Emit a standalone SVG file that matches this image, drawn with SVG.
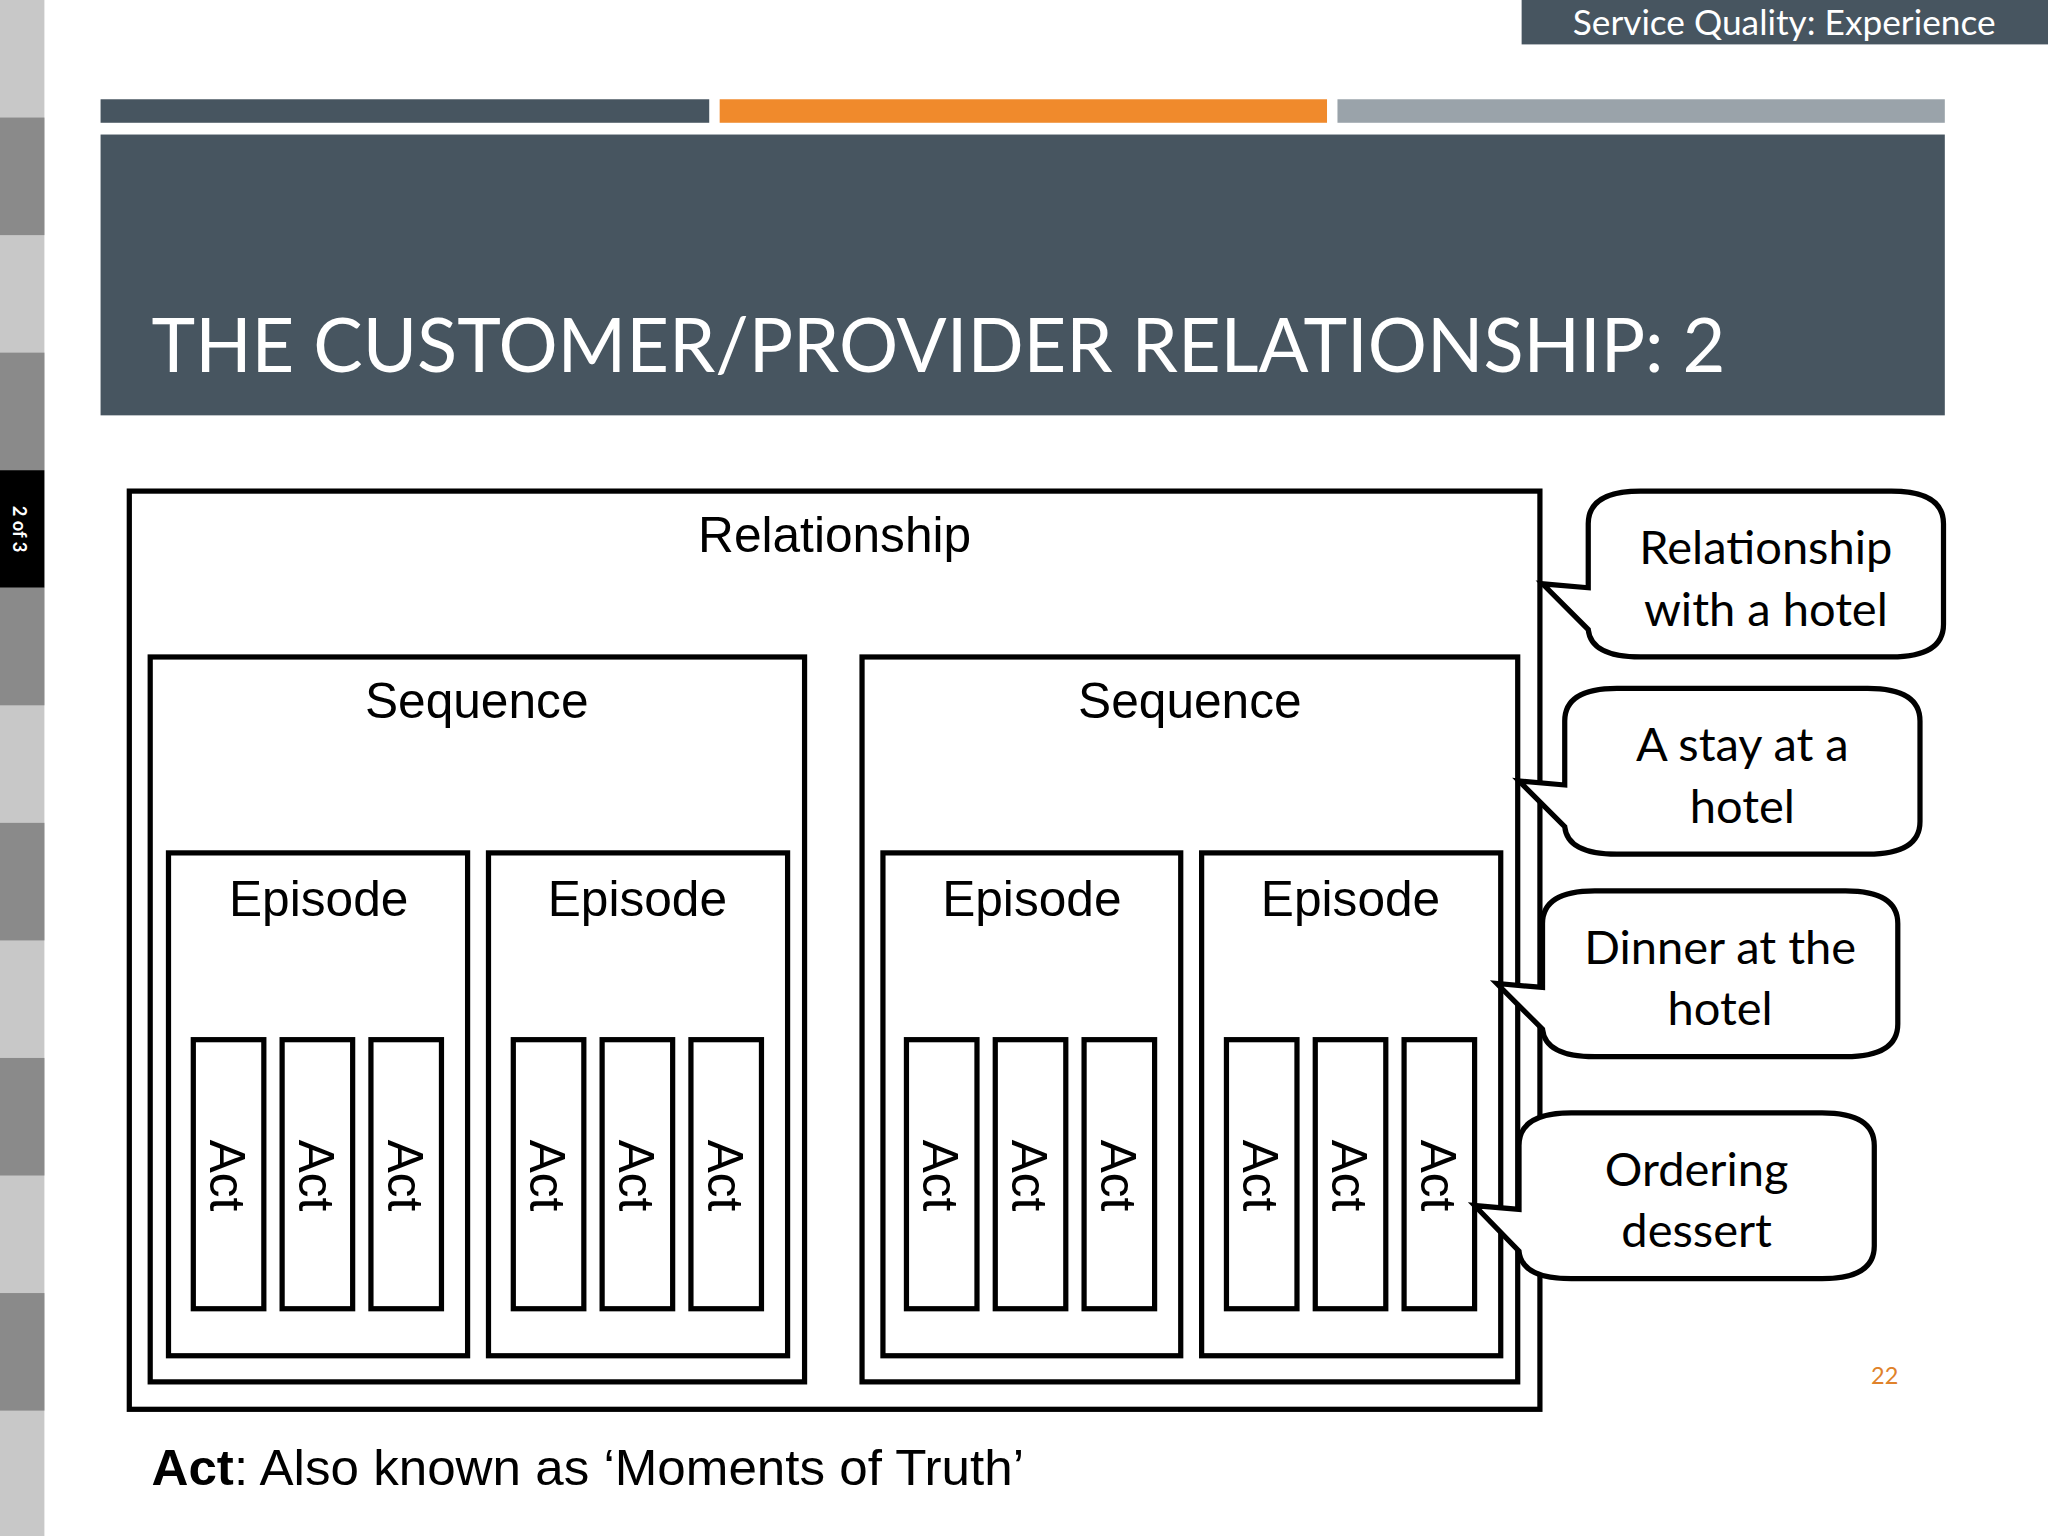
<svg xmlns="http://www.w3.org/2000/svg" width="2048" height="1536" viewBox="0 0 2048 1536">
<style>
.b{fill:#fff;stroke:#000;stroke-width:4}
.t{font-family:"Liberation Sans",Arial,sans-serif;font-size:38px;fill:#000;text-anchor:middle}
.g{font-family:Lato,"Open Sans",sans-serif;font-size:36px;fill:#000;text-anchor:middle}
.a{font-family:"Liberation Sans",Arial,sans-serif;font-size:38px;fill:#000}
</style>
<rect width="2048" height="1536" fill="#fff"/>
<g transform="scale(1.30612,1.30612)">
<g id="strip">
<rect x="0" y="0" width="34" height="1176" fill="#c8c8c8"/>
<rect x="0" y="90" width="34" height="90" fill="#8a8a8a"/>
<rect x="0" y="270" width="34" height="90" fill="#8a8a8a"/>
<rect x="0" y="360" width="34" height="90" fill="#000"/>
<rect x="0" y="450" width="34" height="90" fill="#8a8a8a"/>
<rect x="0" y="630" width="34" height="90" fill="#8a8a8a"/>
<rect x="0" y="810" width="34" height="90" fill="#8a8a8a"/>
<rect x="0" y="990" width="34" height="90" fill="#8a8a8a"/>
<text transform="translate(10,405) rotate(90)" font-family="Lato,sans-serif" font-size="14" font-weight="bold" fill="#fff" text-anchor="middle">2 of 3</text>
</g>
<g id="header">
<rect x="1165" y="0" width="403" height="34" fill="#475560"/>
<text x="1366" y="27" font-family="Lato,'Open Sans',sans-serif" font-size="27" fill="#fff" text-anchor="middle">Service Quality: Experience</text>
<rect x="77" y="76" width="466" height="18" fill="#475560"/>
<rect x="551" y="76" width="465" height="18" fill="#f08a2c"/>
<rect x="1024" y="76" width="465" height="18" fill="#9aa3aa"/>
<rect x="77" y="103" width="1412" height="215" fill="#475560"/>
<text x="116" y="285" font-family="Lato,'Open Sans',sans-serif" font-size="58" fill="#fff" textLength="1205" lengthAdjust="spacingAndGlyphs">THE CUSTOMER/PROVIDER RELATIONSHIP: 2</text>
</g>
<g id="relationship"><rect class="b" x="99" y="376" width="1080" height="703"/><text class="t" x="639" y="423">Relationship</text></g>
<g id="seq1"><rect class="b" x="115" y="503" width="501" height="555"/><text class="t" x="365" y="550">Sequence</text></g>
<g id="seq2"><rect class="b" x="660" y="503" width="502" height="555"/><text class="t" x="911" y="550">Sequence</text></g>
<g id="ep1"><rect class="b" x="129" y="653" width="229" height="385"/><text class="t" x="244" y="701">Episode</text></g>
<g id="ep2"><rect class="b" x="374" y="653" width="229" height="385"/><text class="t" x="488" y="701">Episode</text></g>
<g id="ep3"><rect class="b" x="676" y="653" width="228" height="385"/><text class="t" x="790" y="701">Episode</text></g>
<g id="ep4"><rect class="b" x="920" y="653" width="229" height="385"/><text class="t" x="1034" y="701">Episode</text></g>
<g id="acts">
<g id="act1"><rect class="b" x="148" y="796" width="54" height="206"/><text class="a" transform="translate(161,900) rotate(90)" text-anchor="middle">Act</text></g>
<g id="act2"><rect class="b" x="216" y="796" width="54" height="206"/><text class="a" transform="translate(229,900) rotate(90)" text-anchor="middle">Act</text></g>
<g id="act3"><rect class="b" x="284" y="796" width="54" height="206"/><text class="a" transform="translate(297,900) rotate(90)" text-anchor="middle">Act</text></g>
<g id="act4"><rect class="b" x="393" y="796" width="54" height="206"/><text class="a" transform="translate(406,900) rotate(90)" text-anchor="middle">Act</text></g>
<g id="act5"><rect class="b" x="461" y="796" width="54" height="206"/><text class="a" transform="translate(474,900) rotate(90)" text-anchor="middle">Act</text></g>
<g id="act6"><rect class="b" x="529" y="796" width="54" height="206"/><text class="a" transform="translate(542,900) rotate(90)" text-anchor="middle">Act</text></g>
<g id="act7"><rect class="b" x="694" y="796" width="54" height="206"/><text class="a" transform="translate(707,900) rotate(90)" text-anchor="middle">Act</text></g>
<g id="act8"><rect class="b" x="762" y="796" width="54" height="206"/><text class="a" transform="translate(775,900) rotate(90)" text-anchor="middle">Act</text></g>
<g id="act9"><rect class="b" x="830" y="796" width="54" height="206"/><text class="a" transform="translate(843,900) rotate(90)" text-anchor="middle">Act</text></g>
<g id="act10"><rect class="b" x="939" y="796" width="54" height="206"/><text class="a" transform="translate(952,900) rotate(90)" text-anchor="middle">Act</text></g>
<g id="act11"><rect class="b" x="1007" y="796" width="54" height="206"/><text class="a" transform="translate(1020,900) rotate(90)" text-anchor="middle">Act</text></g>
<g id="act12"><rect class="b" x="1075" y="796" width="54" height="206"/><text class="a" transform="translate(1088,900) rotate(90)" text-anchor="middle">Act</text></g>
</g>
<g id="callout1"><path class="b" d="M1256,376 H1448 Q1488,376 1488,401 V478 Q1488,503 1448,503 H1256 Q1218,503 1216,482 L1181,447 L1216,450 V401 Q1216,376 1256,376 Z"/><text class="g" x="1352" y="432">Relationship</text><text class="g" x="1352" y="479">with a hotel</text></g>
<g id="callout2"><path class="b" d="M1238,527 H1430 Q1470,527 1470,552 V629 Q1470,654 1430,654 H1238 Q1200,654 1198,633 L1163,598 L1198,601 V552 Q1198,527 1238,527 Z"/><text class="g" x="1334" y="583">A stay at a</text><text class="g" x="1334" y="630">hotel</text></g>
<g id="callout3"><path class="b" d="M1221,682 H1413 Q1453,682 1453,707 V784 Q1453,809 1413,809 H1221 Q1183,809 1181,788 L1146,753 L1181,756 V707 Q1181,682 1221,682 Z"/><text class="g" x="1317" y="738">Dinner at the</text><text class="g" x="1317" y="785">hotel</text></g>
<g id="callout4"><path class="b" d="M1203,852 H1395 Q1435,852 1435,877 V954 Q1435,979 1395,979 H1203 Q1165,979 1163,958 L1129,923 L1163,926 V877 Q1163,852 1203,852 Z"/><text class="g" x="1299" y="908">Ordering</text><text class="g" x="1299" y="955">dessert</text></g>
<text x="1443" y="1060" font-family="Lato,sans-serif" font-size="18" fill="#e0822a" text-anchor="middle">22</text>
<text class="a" x="116" y="1137" textLength="668" lengthAdjust="spacingAndGlyphs"><tspan font-weight="bold">Act</tspan>: Also known as ‘Moments of Truth’</text>
</g>
</svg>
